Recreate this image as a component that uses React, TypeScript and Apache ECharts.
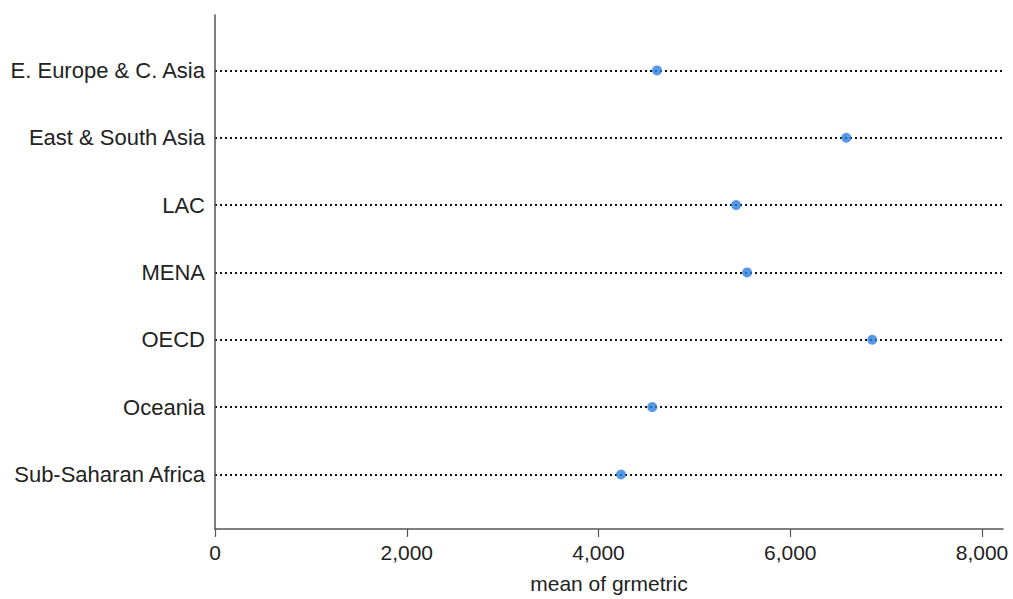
import React, { useEffect, useRef } from "react";
import * as echarts from "echarts";

const categories = [
  "E. Europe & C. Asia",
  "East & South Asia",
  "LAC",
  "MENA",
  "OECD",
  "Oceania",
  "Sub-Saharan Africa",
];
const meanValues = [4610, 6585, 5435, 5550, 6855, 4560, 4235];
const xTicks = [0, 2000, 4000, 6000, 8000];
const catIndex = categories.map((_, i) => i);

export default function App() {
  const ref = useRef<HTMLDivElement>(null);
  useEffect(() => {
    if (!ref.current) return;
    const chart = echarts.init(ref.current, null, { renderer: "svg" });
    const font = "Liberation Sans, Arial, Helvetica, sans-serif";
    chart.setOption({
      animation: false,
      backgroundColor: "#ffffff",
      grid: { left: 215, right: 10, top: 15, bottom: 65, containLabel: false },
      xAxis: {
        type: "value",
        min: 0,
        max: 8219,
        name: "mean of grmetric",
        nameLocation: "middle",
        nameGap: 44,
        nameTextStyle: { fontFamily: font, fontSize: 21, color: "#222" },
        axisLine: { show: true, onZero: false, lineStyle: { color: "#555", width: 1.5 } },
        axisTick: { show: true, length: 8, customValues: xTicks, lineStyle: { color: "#555", width: 1.2 } },
        axisLabel: {
          customValues: xTicks,
          fontFamily: font,
          fontSize: 21,
          color: "#222",
          margin: 13,
          formatter: (v: number) => v.toLocaleString("en-US"),
        },
        splitLine: { show: false },
      },
      yAxis: {
        type: "value",
        inverse: true,
        min: -0.8235,
        max: 6.81,
        axisLine: { show: true, onZero: false, lineStyle: { color: "#555", width: 1.5 } },
        axisTick: { show: false, customValues: catIndex },
        axisLabel: {
          customValues: catIndex,
          fontFamily: font,
          fontSize: 22,
          color: "#222",
          margin: 10,
          formatter: (v: number) => categories[Math.round(v)] ?? "",
        },
        splitLine: {
          show: true,
          lineStyle: { color: "#111", width: 1.8, type: [2, 3] },
        },
      },
      series: [
        {
          type: "scatter",
          symbol: "circle",
          symbolSize: 10,
          itemStyle: { color: "#2a7fe0" },
          data: meanValues.map((v, i) => [v, i]),
          z: 5,
        },
      ],
    });
    return () => chart.dispose();
  }, []);
  return <div ref={ref} style={{ width: 1013, height: 599, position: "absolute", left: 0, top: 0 }} />;
}
